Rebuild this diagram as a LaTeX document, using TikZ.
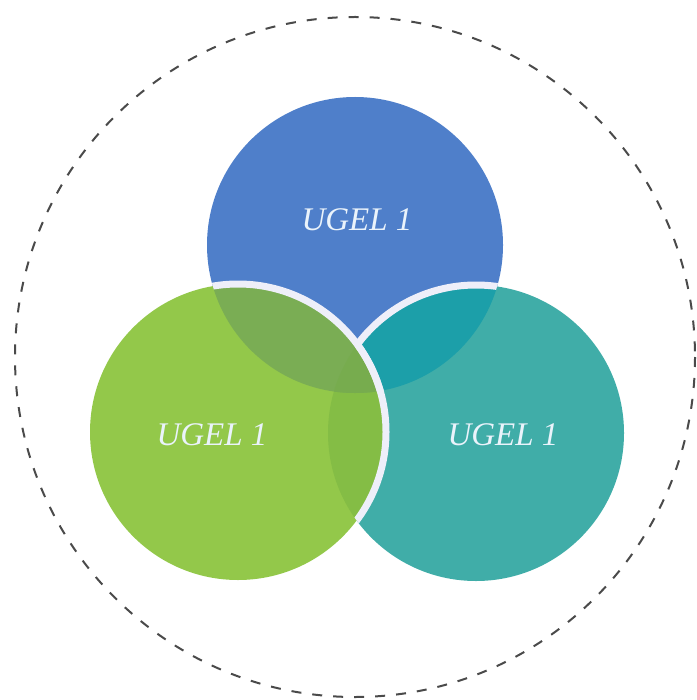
\documentclass[tikz,border=0pt]{standalone}
\usepackage{fontspec}
\setmainfont{Liberation Serif}
\definecolor{cblue}{HTML}{4F7FCA}
\definecolor{cgreen}{HTML}{93C84A}
\definecolor{cteal}{HTML}{40ADA8}
\definecolor{cbt}{HTML}{1C9FA9}
\definecolor{cbg}{HTML}{7AAD54}
\definecolor{cgt}{HTML}{84BD45}
\definecolor{cbgt}{HTML}{77AC4E}
\definecolor{ctxt}{HTML}{EAF3FB}
\definecolor{crim}{HTML}{EEEFF9}
\definecolor{cdash}{HTML}{4A4A4A}
\begin{document}
\begin{tikzpicture}[x=1pt,y=-1pt,
  rim/.style={draw=crim,line width=7pt},
  lbl/.style={text=ctxt,font=\fontsize{33}{36}\selectfont\itshape},
  outer/.style={draw=cdash,line width=2pt,dash pattern=on 10pt off 11pt}]
\useasboundingbox (0,0) rectangle (696,700);
\coordinate (cb) at (355,245);
\coordinate (ct) at (476,433);
\coordinate (cg) at (238,432);
\def\R{148}
% outer dashed circle
\draw[outer] (355,357) circle[radius=340];
% blue
\fill[cblue] (cb) circle[radius=\R];
% teal
\fill[cteal] (ct) circle[radius=\R];
\begin{scope}
  \clip (cb) circle[radius=\R];
  \fill[cbt] (ct) circle[radius=\R];
  \draw[rim] (ct) circle[radius=\R];
\end{scope}
% green
\fill[cgreen] (cg) circle[radius=\R];
\begin{scope}
  \clip (cg) circle[radius=\R];
  \fill[cgt] (ct) circle[radius=\R];
  \fill[cbg] (cb) circle[radius=\R];
  \clip (cb) circle[radius=\R];
  \fill[cbgt] (ct) circle[radius=\R];
\end{scope}
\begin{scope}
  \clip (cb) circle[radius=\R];
  \draw[rim] (cg) circle[radius=\R];
\end{scope}
\begin{scope}
  \clip (ct) circle[radius=\R];
  \draw[rim] (cg) circle[radius=\R];
\end{scope}
% labels
\node[lbl] (lb) at (357,220) {UGEL 1};
\node[lbl] (lg) at (212,435) {UGEL 1};
\node[lbl] (lt) at (503,435) {UGEL 1};
\end{tikzpicture}
\end{document}
